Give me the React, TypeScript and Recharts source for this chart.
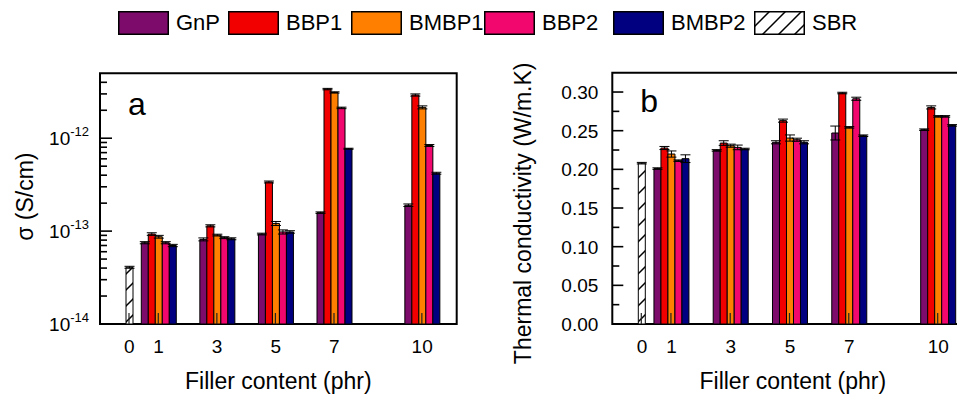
import React from 'react';
import { BarChart, Bar, XAxis, YAxis, ErrorBar, ReferenceArea, Rectangle } from 'recharts';

// ---------- data ----------
const fillerContent = [1, 3, 5, 7, 10];
const sbrContent = [0];
const xTickValues = [0, 1, 3, 5, 7, 10];
const seriesNames = ['GnP', 'BBP1', 'BMBP1', 'BBP2', 'BMBP2'];
const seriesColors = ['#7C0B6C', '#F20000', '#FF8000', '#F2076F', '#000080'];

// panel a: electrical conductivity sigma (S/cm)
const sigmaGnP = [7.5e-14, 8.15e-14, 9.3e-14, 1.58e-13, 1.9e-13];
const sigmaBBP1 = [9.3e-14, 1.14e-13, 3.38e-13, 3.38e-12, 2.92e-12];
const sigmaBMBP1 = [8.7e-14, 9.06e-14, 1.21e-13, 3.11e-12, 2.15e-12];
const sigmaBBP2 = [7.5e-14, 8.5e-14, 9.8e-14, 2.12e-12, 8.35e-13];
const sigmaBMBP2 = [7.0e-14, 8.27e-14, 9.8e-14, 7.7e-13, 4.2e-13];
const sigmaSBR = [4.08e-14];
const sigmaErrGnP = [2e-15, 3e-15, 2e-15, 3e-15, 6e-15];
const sigmaErrBBP1 = [3e-15, 3e-15, 8e-15, 6e-14, 8e-14];
const sigmaErrBMBP1 = [3e-15, 2e-15, 6e-15, 5e-14, 8e-14];
const sigmaErrBBP2 = [2e-15, 2e-15, 5e-15, 4e-14, 2e-14];
const sigmaErrBMBP2 = [2e-15, 2e-15, 3e-15, 1e-14, 1e-14];
const sigmaErrSBR = [1e-15];

// panel b: thermal conductivity (W/m.K)
const kGnP = [0.201, 0.2245, 0.235, 0.247, 0.2513];
const kBBP1 = [0.2276, 0.234, 0.263, 0.2987, 0.2801];
const kBMBP1 = [0.2198, 0.2306, 0.2405, 0.2543, 0.2685];
const kBBP2 = [0.2112, 0.2284, 0.2383, 0.2913, 0.2685];
const kBMBP2 = [0.2138, 0.2263, 0.235, 0.2435, 0.2569];
const kSBR = [0.208];
const kErrGnP = [0.001, 0.001, 0.002, 0.009, 0.001];
const kErrBBP1 = [0.002, 0.003, 0.002, 0.001, 0.002];
const kErrBMBP1 = [0.004, 0.002, 0.004, 0.001, 0.001];
const kErrBBP2 = [0.001, 0.003, 0.002, 0.002, 0.001];
const kErrBMBP2 = [0.005, 0.001, 0.002, 0.001, 0.001];
const kErrSBR = [0.001];

const sigmaTicks = [
  1e-14, 2e-14, 3e-14, 4e-14, 5e-14, 6e-14, 7e-14, 8e-14, 9e-14,
  1e-13, 2e-13, 3e-13, 4e-13, 5e-13, 6e-13, 7e-13, 8e-13, 9e-13,
  1e-12, 2e-12, 3e-12, 4e-12,
];
const kTicks = [0, 0.025, 0.05, 0.075, 0.1, 0.125, 0.15, 0.175, 0.2, 0.225, 0.25, 0.275, 0.3];

// ---------- build rows ----------
function buildRows(vals: number[][], errs: number[][], sbr: number[], sbrErr: number[]) {
  return fillerContent.map((x, i) => {
    const row: any = { x, xs: i < sbrContent.length ? sbrContent[i] : x };
    seriesNames.forEach((n, s) => {
      row[n] = vals[s][i];
      row[n + 'Err'] = errs[s][i];
    });
    row.SBR = i < sbr.length ? sbr[i] : null;
    row.SBRErr = i < sbrErr.length ? sbrErr[i] : null;
    return row;
  });
}

const sigmaRows = buildRows(
  [sigmaGnP, sigmaBBP1, sigmaBMBP1, sigmaBBP2, sigmaBMBP2],
  [sigmaErrGnP, sigmaErrBBP1, sigmaErrBMBP1, sigmaErrBBP2, sigmaErrBMBP2],
  sigmaSBR, sigmaErrSBR,
);
const kRows = buildRows(
  [kGnP, kBBP1, kBMBP1, kBBP2, kBMBP2],
  [kErrGnP, kErrBBP1, kErrBMBP1, kErrBBP2, kErrBMBP2],
  kSBR, kErrSBR,
);

const FONT = '"Liberation Sans", Arial, Helvetica, sans-serif';
const X_DOMAIN = [-1, 11.18];

// ---------- ticks ----------
const XTick = (props: any) => {
  const { x, y, payload } = props;
  return (
    <text x={x} y={y + 16} dy="0.71em" textAnchor="middle" fontSize={19} fill="#000" fontFamily={FONT}>
      {payload.value}
    </text>
  );
};

const LogTick = (props: any) => {
  const { x, y, payload } = props;
  const v = payload.value;
  const exp = Math.round(Math.log10(v));
  const major = Math.abs(v - Math.pow(10, exp)) / v < 1e-6;
  return (
    <g>
      <line x1={x} x2={x + (major ? 12 : 7)} y1={y} y2={y} stroke="#000" strokeWidth={1.6} />
      {major && (
        <text x={x - 11} y={y} dy="0.36em" textAnchor="end" fontSize={19} fill="#000" fontFamily={FONT}>
          10<tspan dy={-9} fontSize={13}>{String(exp)}</tspan>
        </text>
      )}
    </g>
  );
};

const LinTick = (props: any) => {
  const { x, y, payload } = props;
  const v = payload.value;
  const major = Math.round(v * 1000) % 50 === 0;
  return (
    <g>
      <line x1={x} x2={x + (major ? 11 : 7)} y1={y} y2={y} stroke="#000" strokeWidth={1.6} />
      {major && (
        <text x={x - 14} y={y} dy="0.36em" textAnchor="end" fontSize={19} fill="#000" fontFamily={FONT}>
          {v.toFixed(2)}
        </text>
      )}
    </g>
  );
};

// bar with small dark mark at its base (as in the original figure)
const MarkedBar = (props: any) => {
  const { x, y, width, height } = props;
  if (!isFinite(x) || !isFinite(y) || !isFinite(height) || height <= 0) return null;
  const cx = x + width / 2 - 0.5;
  return (
    <g>
      <Rectangle {...props} />
      <line x1={cx} x2={cx} y1={y + height} y2={y + height - 11} stroke="#222" strokeWidth={1.2} />
    </g>
  );
};

function hatchDefs(id: string) {
  return (
    <defs>
      <pattern id={id} patternUnits="userSpaceOnUse" width={16} height={16}>
        <rect width={16} height={16} fill="#fff" />
        <path d="M0,16 L16,0 M-4,4 L4,-4 M12,20 L20,12" stroke="#000" strokeWidth={1.5} />
      </pattern>
    </defs>
  );
}

function seriesBars(errKeySuffix: string) {
  return seriesNames.map((n, s) => (
    <Bar
      key={n}
      dataKey={n}
      xAxisId="main"
      fill={seriesColors[s]}
      stroke="#000"
      strokeWidth={1}
      isAnimationActive={false}
      shape={n === 'BMBP1' ? MarkedBar : undefined}
    >
      <ErrorBar dataKey={n + errKeySuffix} width={5} stroke="#000" strokeWidth={1} />
    </Bar>
  ));
}

const xAxisTitle = (props: any) => {
  const vb = props.viewBox;
  return (
    <text x={vb.x + vb.width / 2} y={vb.y + 65} textAnchor="middle" fontSize={23} fill="#000" fontFamily={FONT}>
      Filler content (phr)
    </text>
  );
};

const yTitle = (text: string, dx: number, dy: number) => (props: any) => {
  const vb = props.viewBox;
  const cx = vb.x + dx;
  const cy = vb.y + vb.height / 2 + dy;
  return (
    <text
      x={cx}
      y={cy}
      transform={`rotate(-90, ${cx}, ${cy})`}
      textAnchor="middle"
      dominantBaseline="central"
      fontSize={23}
      fill="#000"
      fontFamily={FONT}
    >
      {text}
    </text>
  );
};

const panelLetter = (letter: string, dx: number, dy: number) => (props: any) => {
  const vb = props.viewBox;
  return (
    <text x={vb.x + dx} y={vb.y + dy} fontSize={32} fill="#000" fontFamily={FONT}>
      {letter}
    </text>
  );
};

function Legend() {
  const names = [...seriesNames, 'SBR'];
  const lefts = [118, 228, 351, 484, 613, 754];
  return (
    <div style={{ position: 'absolute', left: 0, top: 0, width: 957, height: 45 }}>
      {names.map((n, i) => (
        <div key={n} style={{ position: 'absolute', left: lefts[i], top: 11, display: 'flex', alignItems: 'center' }}>
          <svg width={51} height={24} style={{ display: 'block' }}>
            {n === 'SBR' && hatchDefs('hatchLegend')}
            <rect
              x={0.75}
              y={0.75}
              width={49.5}
              height={22.5}
              fill={n === 'SBR' ? 'url(#hatchLegend)' : seriesColors[i]}
              stroke="#000"
              strokeWidth={1.5}
            />
          </svg>
          <span style={{ marginLeft: 7, fontSize: 22, fontFamily: FONT, color: '#000', lineHeight: '24px' }}>{n}</span>
        </div>
      ))}
    </div>
  );
}

export default function App() {
  return (
    <div
      style={{
        position: 'fixed',
        left: 0,
        top: 0,
        width: 957,
        height: 399,
        overflow: 'hidden',
        background: '#fff',
        fontFamily: FONT,
      }}
    >
      <Legend />
      {/* panel a */}
      <div style={{ position: 'absolute', left: 0, top: 0 }}>
        <BarChart
          width={480}
          height={399}
          data={sigmaRows}
          margin={{ top: 73.3, right: 23.3, bottom: 45, left: 10 }}
          barGap={0}
          barSize={7}
        >
          {hatchDefs('hatchA')}
          <XAxis
            xAxisId="main"
            dataKey="x"
            type="number"
            domain={X_DOMAIN}
            allowDataOverflow
            ticks={xTickValues}
            interval={0}
            height={30}
            tickSize={0}
            tickMargin={0}
            axisLine={false}
            tickLine={false}
            tick={XTick}
            label={{ content: xAxisTitle }}
          />
          <XAxis xAxisId="sbr" dataKey="xs" type="number" domain={X_DOMAIN} allowDataOverflow hide />
          <YAxis
            type="number"
            scale="log"
            domain={[1e-14, 5e-12]}
            allowDataOverflow
            ticks={sigmaTicks}
            interval={0}
            width={90}
            tickSize={0}
            tickMargin={0}
            axisLine={false}
            tickLine={false}
            tick={LogTick}
            label={{ content: yTitle('σ (S/cm)', 15, -2) }}
          />
          {seriesBars('Err')}
          <Bar
            dataKey="SBR"
            xAxisId="sbr"
            fill="url(#hatchA)"
            stroke="#000"
            strokeWidth={1}
            isAnimationActive={false}
            shape={MarkedBar}
          >
            <ErrorBar dataKey="SBRErr" width={5} stroke="#000" strokeWidth={1} />
          </Bar>
          <ReferenceArea
            xAxisId="main"
            x1={X_DOMAIN[0]}
            x2={X_DOMAIN[1]}
            y1={1e-14}
            y2={5e-12}
            fill="none"
            fillOpacity={0}
            stroke="#000"
            strokeWidth={2}
            ifOverflow="visible"
            label={{ content: panelLetter('a', 28, 42) }}
          />
        </BarChart>
      </div>
      {/* panel b */}
      <div style={{ position: 'absolute', left: 480, top: 0 }}>
        <BarChart
          width={500}
          height={399}
          data={kRows}
          margin={{ top: 72.7, right: 6.7, bottom: 45, left: 32.3 }}
          barGap={0}
          barSize={7}
        >
          {hatchDefs('hatchB')}
          <XAxis
            xAxisId="main"
            dataKey="x"
            type="number"
            domain={X_DOMAIN}
            allowDataOverflow
            ticks={xTickValues}
            interval={0}
            height={30}
            tickSize={0}
            tickMargin={0}
            axisLine={false}
            tickLine={false}
            tick={XTick}
            label={{ content: xAxisTitle }}
          />
          <XAxis xAxisId="sbr" dataKey="xs" type="number" domain={X_DOMAIN} allowDataOverflow hide />
          <YAxis
            type="number"
            domain={[0, 0.325]}
            allowDataOverflow
            ticks={kTicks}
            interval={0}
            width={100}
            tickSize={0}
            tickMargin={0}
            axisLine={false}
            tickLine={false}
            tick={LinTick}
            label={{ content: yTitle('Thermal conductivity (W/m.K)', 11, 15) }}
          />
          {seriesBars('Err')}
          <Bar
            dataKey="SBR"
            xAxisId="sbr"
            fill="url(#hatchB)"
            stroke="#000"
            strokeWidth={1}
            isAnimationActive={false}
            shape={MarkedBar}
          >
            <ErrorBar dataKey="SBRErr" width={5} stroke="#000" strokeWidth={1} />
          </Bar>
          <ReferenceArea
            xAxisId="main"
            x1={X_DOMAIN[0]}
            x2={X_DOMAIN[1]}
            y1={0}
            y2={0.325}
            fill="none"
            fillOpacity={0}
            stroke="#000"
            strokeWidth={2}
            ifOverflow="visible"
            label={{ content: panelLetter('b', 28, 39) }}
          />
        </BarChart>
      </div>
    </div>
  );
}
